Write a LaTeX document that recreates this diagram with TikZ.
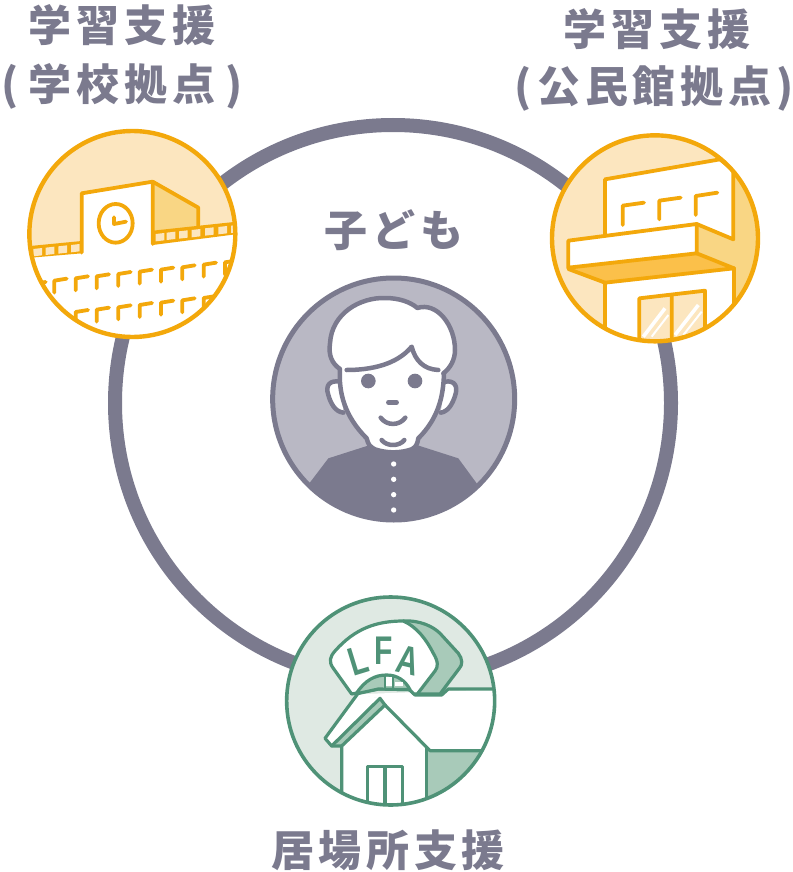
\documentclass[tikz,border=0pt]{standalone}
\usepackage{fontspec}
\usepackage{graphicx}
\newfontfamily\cjk[LetterSpace=11]{Noto Sans CJK JP}
\newfontfamily\latinb{Liberation Sans}
\definecolor{ink}{HTML}{7B7A8E}
\definecolor{inkl}{HTML}{B9B8C4}
\definecolor{org}{HTML}{F3A80B}
\definecolor{orgl}{HTML}{FCE6BF}
\definecolor{orgm}{HTML}{F9D684}
\definecolor{orgd}{HTML}{FBC04A}
\definecolor{grn}{HTML}{4F9277}
\definecolor{grnl}{HTML}{DFE9E3}
\definecolor{grnm}{HTML}{A8CAB9}
\tikzset{
  lbl/.style={text=ink,inner sep=0pt,font=\cjk\bfseries\fontsize{43}{43}\selectfont},
  ol/.style={draw=org,line width=3.8pt,line join=round,line cap=round},
  gl/.style={draw=grn,line width=3.2pt,line join=round,line cap=round},
  pl/.style={draw=ink,line width=4.5pt,line join=round,line cap=round},
  zoomed/.style={x=0.33333pt,y=-0.33333pt},
  lfa/.style={text=grn,inner sep=0pt,font=\latinb\bfseries\fontsize{40}{40}\selectfont}
}
\begin{document}
\begin{tikzpicture}[x=1pt,y=-1pt]
\useasboundingbox (0,0) rectangle (792,872);
\fill[white] (0,0) rectangle (792,872);
% ring
\draw[ink,line width=14pt] (393,403) circle[radius=278pt];
% labels
\node[lbl] (l1a) at (122,25) {学習支援};
\node[lbl] (l1b) at (122,86) {(\hspace{10pt}学校拠点\hspace{10pt})};
\node[lbl] (l2a) at (657,29) {学習支援};
\node[lbl] (l2b) at (654,89) {(\hspace{6pt}公民館拠点\hspace{5pt})};
\node[lbl] (l3) at (394,230) {子ども};
\node[lbl] (l4) at (388,850) {居場所支援};
% school
\begin{scope}[shift={(0,110)},zoomed]
  \begin{scope}
    \clip (397,372) circle[radius=103pt];
    \fill[orgl] (397,372) circle[radius=103pt];
    \fill[white] (70,442) -- (245,428) -- (245,250) -- (458,215) -- (458,402) -- (730,368) -- (730,720) -- (70,720) -- cycle;
    \fill[orgm] (458,215) -- (595,293) -- (595,350) -- (458,362) -- cycle;
    \fill[org] (70,410) -- (245,393) -- (245,430) -- (70,445) -- cycle;
    \fill[org] (458,362) -- (730,333) -- (730,370) -- (458,405) -- cycle;
    \foreach \x/\y in {100/417,137/413,175/409,213/405,467/372,500/368,537/364,575/360,615/355,655/351,693/347}
      \fill[orgl] (\x,\y) -- ++(26,-3) -- ++(0,22) -- ++(-26,3) -- cycle;
    \draw[ol] (245,428) -- (245,250) -- (458,215) -- (458,402);
    \draw[ol] (458,215) -- (595,293) -- (595,350);
    \draw[ol] (347,340) ellipse[x radius=51,y radius=58];
    \draw[ol] (342,322) -- (342,342) -- (378,335);
    \foreach \x/\y in {163/548,227/541,290/535,355/528,419/521,483/515,547/508,611/500,675/493}
      \draw[ol] (\x,\y) -- ++(0,-36) -- ++(37,-6);
    \draw[ol] (100,522) -- ++(37,-6);
    \foreach \x/\y in {227/642,290/635,355/628,419/621,483/614,547/607,611/600}
      \draw[ol] (\x,\y) -- ++(0,-36) -- ++(37,-6);
    \draw[ol] (675,493) -- (712,452) (611,600) -- (650,556);
  \end{scope}
  \draw[org,line width=4.4pt,fill=none] (397,372) circle[radius=103pt];
\end{scope}
% community centre
\begin{scope}[shift={(530,120)},zoomed]
  \begin{scope}
    \clip (375,355) circle[radius=103pt];
    \fill[orgl] (375,355) circle[radius=103pt];
    \fill[orgm] (610,140) -- (720,140) -- (720,620) -- (612,620) -- (612,445) -- (500,400) -- (500,312) -- cycle;
    \fill[white] (225,178) -- (570,118) -- (610,140) -- (610,358) -- (500,312) -- (225,345) -- cycle;
    \fill[white] (225,488) -- (612,445) -- (612,700) -- (225,700) -- cycle;
    \fill[white] (115,362) -- (500,312) -- (500,400) -- (115,443) -- cycle;
    \fill[orgd] (115,447) -- (500,400) -- (612,445) -- (225,488) -- cycle;
    \fill[orgl] (328,535) -- (525,512) -- (525,690) -- (328,690) -- cycle;
    \draw[white,line width=3.6pt] (340,650) -- (405,565);
    \draw[white,line width=2pt] (365,650) -- (415,585);
    \draw[white,line width=3.6pt] (435,645) -- (505,555);
    \draw[white,line width=2pt] (460,645) -- (515,575);
    \draw[ol] (225,345) -- (225,178) -- (570,118) -- (610,150) -- (610,358) -- (500,312);
    \draw[ol] (115,362) -- (500,312) -- (500,400) -- (115,443) -- cycle;
    \draw[ol] (115,447) -- (225,488) -- (612,445) -- (500,400);
    \draw[ol] (225,488) -- (225,700) (612,445) -- (612,700);
    \draw[ol] (328,700) -- (328,535) -- (525,512) -- (525,700) (425,525) -- (425,700);
    \draw[ol] (278,315) -- (278,257) -- (342,248);
    \draw[ol] (388,298) -- (388,242) -- (452,233);
    \draw[ol] (497,285) -- (497,228) -- (562,218);
  \end{scope}
  \draw[org,line width=4.4pt] (375,355) circle[radius=103pt];
\end{scope}
% LFA
\begin{scope}[shift={(270,585)},zoomed]
  \begin{scope}
    \clip (362,348) circle[radius=103pt];
    \fill[grnl] (362,348) circle[radius=103pt];
    \fill[white] (255,328) -- (690,312) -- (690,497) -- (480,497) -- (345,360) -- (330,340) -- cycle;
    \fill[grnm] (470,497) -- (700,497) -- (700,720) -- (470,720) -- cycle;
    \fill[white] (215,483) -- (345,360) -- (470,490) -- (470,720) -- (215,720) -- cycle;
    % roof
    \fill[white] (165,460) -- (262,328) -- (330,340) -- (185,483) -- cycle;
    \fill[grnm] (185,483) -- (330,340) -- (345,360) -- (215,483) -- cycle;
    \draw[gl] (262,328) -- (165,460) -- (185,483) -- (215,483) -- (215,720);
    \draw[gl] (185,483) -- (330,340) -- (345,360);
    \draw[gl] (215,483) -- (345,360) -- (480,497) -- (700,497);
    \draw[gl] (470,490) -- (470,720);
    \draw[gl] (420,314) -- (435,330) -- (515,330) -- (535,312) -- (700,312);
    % sign
    \draw[gl,fill=grnm] (400,108) .. controls (450,105) and (490,125) .. (510,145) -- (565,205) .. controls (578,222) and (578,240) .. (568,250) -- (510,327) -- (440,327) -- (400,200) -- cycle;
    \draw[gl,fill=white] (245,327) -- (190,250) .. controls (175,230) and (180,215) .. (195,198) .. controls (255,130) and (320,108) .. (400,108) .. controls (440,125) and (470,165) .. (490,205) .. controls (505,230) and (505,245) .. (495,258) -- (442,327) -- (432,327) -- (418,314) -- (325,312) -- cycle;
    \draw[gl,fill=grnm] (258,327) .. controls (285,285) and (315,270) .. (350,270) .. controls (380,270) and (405,285) .. (420,314) -- (325,312) -- cycle;
    \fill[white] (347,277) rectangle (365,304);
    \fill[white] (375,290) rectangle (400,304);
    \draw[grn,line width=2.2pt] (345,272) -- (345,310) (368,272) -- (368,310);
    \node[lfa,rotate=17] (letL) at (264,228) {\scalebox{.75}[1]{L}};
    \node[lfa] (letF) at (340,196) {\scalebox{.75}[1]{F}};
    \node[lfa,rotate=-13] (letA) at (414,228) {\scalebox{.75}[1]{A}};
    \draw[gl,fill=white] (292,700) -- (292,545) -- (398,545) -- (398,700) (345,545) -- (345,700);
  \end{scope}
  \draw[grn,line width=3.6pt] (362,348) circle[radius=104pt];
\end{scope}
% child
\begin{scope}[shift={(260,270)},zoomed]
  \begin{scope}
    \clip (401,387) circle[radius=121pt];
    \fill[inkl] (401,387) circle[radius=121pt];
    \fill[ink] (100,800) -- (148,640) -- (205,565) -- (330,525) -- (470,525) -- (595,565) -- (650,640) -- (700,800) -- cycle;
    % ears
    \draw[pl,fill=white] (240,335) .. controls (210,330) and (195,345) .. (205,375) .. controls (212,400) and (225,425) .. (250,428);
    \draw[pl,fill=white] (555,335) .. controls (585,330) and (595,350) .. (585,378) .. controls (578,400) and (565,425) .. (542,428);
    % face
    \fill[white] (240,215) -- (552,215) -- (552,295) .. controls (550,380) and (535,445) .. (475,505) .. controls (472,520) and (470,530) .. (455,538) .. controls (420,550) and (380,550) .. (345,538) .. controls (330,530) and (325,525) .. (320,505) .. controls (255,440) and (235,370) .. (240,295) -- cycle;
    \draw[pl] (240,295) .. controls (235,370) and (255,440) .. (320,505) .. controls (325,525) and (330,530) .. (345,538) .. controls (380,550) and (420,550) .. (455,538) .. controls (470,530) and (472,520) .. (475,505) .. controls (535,445) and (550,380) .. (552,310);
    % hair
    \fill[white] (240,297) .. controls (215,280) and (205,255) .. (210,220) .. controls (215,130) and (300,82) .. (375,84) .. controls (415,84) and (450,95) .. (472,114) .. controls (530,95) and (585,165) .. (585,240) .. controls (585,270) and (570,295) .. (550,310) -- (535,300) .. controls (490,298) and (465,270) .. (455,230) .. controls (410,285) and (330,300) .. (260,300) -- cycle;
    \draw[pl] (240,297) .. controls (215,280) and (205,255) .. (210,220) .. controls (215,130) and (300,82) .. (375,84) .. controls (415,84) and (450,95) .. (472,114) .. controls (530,95) and (585,165) .. (585,240) .. controls (585,270) and (570,295) .. (550,310);
    \draw[pl] (535,300) .. controls (490,298) and (465,270) .. (455,230) .. controls (410,285) and (330,300) .. (260,300);
    \fill[ink] (325,333) circle[radius=22];
    \fill[ink] (465,333) circle[radius=22];
    \draw[pl] (385,397) -- (410,397);
    \draw[pl] (362,443) .. controls (380,468) and (418,468) .. (436,443);
    \draw[pl] (365,510) .. controls (380,530) and (418,530) .. (433,510);
    \foreach \y in {582,628,674,720}
      \fill[white] (401,\y) circle[radius=8];
  \end{scope}
  \draw[ink,line width=5pt] (401,387) circle[radius=121pt];
\end{scope}
\end{tikzpicture}
\end{document}
